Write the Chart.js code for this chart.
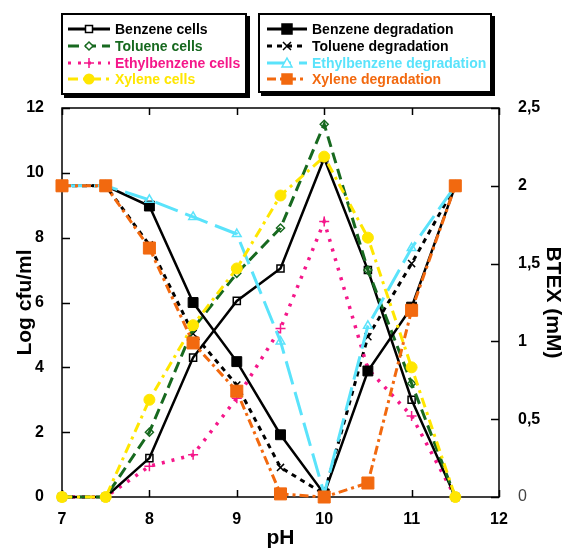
<!DOCTYPE html>
<html>
<head>
<meta charset="utf-8">
<script src="https://cdn.jsdelivr.net/npm/chart.js@4.4.1/dist/chart.umd.min.js"></script>
<style>
  body { margin: 0; background: #fff; }
  #wrap { position: relative; width: 566px; height: 548px; }
  #wrap canvas { position: absolute; left: 0; top: 0; }
  .lg {
    position: absolute; background: #fff; border: 2px solid #000;
    box-shadow: 3px 3px 0 #000; box-sizing: border-box;
    font: bold 14px "Liberation Sans", Arial, sans-serif;
  }
  .row { display: flex; align-items: center; height: 16.7px; white-space: nowrap; }
  .row svg { flex: none; margin-right: 5px; }
</style>
</head>
<body>
<div id="wrap">
  <canvas id="phChart" width="566" height="548"></canvas>
  <div class="lg" id="legCells" style="left:61px;top:13px;width:186px;height:82px;padding:6px 0 0 5px;"></div>
  <div class="lg" id="legDeg" style="left:258px;top:13px;width:234px;height:80px;padding:6px 0 0 7px;"></div>
</div>
<script>
(() => {
  /* ---------- DATA ---------- */

  const PH = [7, 7.5, 8, 8.5, 9, 9.5, 10, 10.5, 11, 11.5];

  // Log cfu/ml (left axis)
  const benzeneCells      = [0, 0, 1.2, 4.3, 6.05, 7.05, 10.45, 7.0, 3.0, 0];
  const tolueneCells      = [0, 0, 2.0, 5.2, 6.9, 8.3, 11.5, 7.0, 3.5, 0];
  const ethylbenzeneCells = [0, 0, 0.95, 1.3, 3.05, 5.2, 8.5, 3.95, 2.5, 0];
  const xyleneCells       = [0, 0, 3.0, 5.3, 7.05, 9.3, 10.5, 8.0, 4.0, 0];

  // BTEX mM (right axis)
  const benzeneDeg      = [2, 2, 1.87, 1.25, 0.87, 0.4, 0.02, 0.81, 1.22, 2];
  const tolueneDeg      = [2, 2, 1.62, 1.05, 0.72, 0.19, 0.02, 1.03, 1.5, 2];
  const ethylbenzeneDeg = [2, 2, 1.91, 1.8, 1.69, 1.0, 0.02, 1.1, 1.6, 2];
  const xyleneDeg       = [2, 2, 1.6, 0.99, 0.68, 0.02, 0, 0.09, 1.2, 2];

  const FONT = '"Liberation Sans", Arial, sans-serif';

  const GREEN = "#17691f";
  const PINK = "#f5178a";
  const YELLOW = "#ffe600";
  const CYAN = "#5ae3fb";
  const ORANGE = "#f2690f";

  const CELLS = [
    { label: "Benzene cells", data: benzeneCells, color: "#000", dash: [], width: 2.5,
      point: "rect", radius: 5, filled: false, order: 5 },
    { label: "Toluene cells", data: tolueneCells, color: GREEN, dash: [11, 6], width: 3,
      point: "rectRot", radius: 4, filled: false, order: 4 },
    { label: "Ethylbenzene cells", data: ethylbenzeneCells, color: PINK, dash: [3, 7], width: 3.5,
      point: "cross", radius: 5, filled: false, order: 6 },
    { label: "Xylene cells", data: xyleneCells, color: YELLOW, dash: [10, 5, 3, 5], width: 3,
      point: "circle", radius: 5.5, filled: true, order: 1 }
  ];

  const DEGS = [
    { label: "Benzene degradation", data: benzeneDeg, color: "#000", dash: [], width: 2.5,
      point: "rect", radius: 7, filled: true, order: 3, text: "#000" },
    { label: "Toluene degradation", data: tolueneDeg, color: "#000", dash: [5, 5], width: 3,
      point: "crossRot", radius: 5, filled: false, order: 7, text: "#000" },
    { label: "Ethylbenzene degradation", data: ethylbenzeneDeg, color: CYAN, dash: [24, 8], width: 3,
      point: "triangle", radius: 5, filled: false, order: 2, text: CYAN },
    { label: "Xylene degradation", data: xyleneDeg, color: ORANGE, dash: [9, 4, 3, 4], width: 3,
      point: "rect", radius: 8.5, filled: true, order: 0, text: ORANGE }
  ];

  /* ---------- HELPERS ---------- */

  function toDataset(s, axis) {
    return {
      label: s.label,
      data: PH.map((x, i) => ({ x, y: s.data[i] })),
      yAxisID: axis,
      borderColor: s.color,
      borderWidth: s.width,
      borderDash: s.dash,
      borderCapStyle: "butt",
      pointStyle: s.point,
      pointRadius: s.radius,
      pointBorderWidth: s.filled ? 1 : 1.5,
      pointBorderColor: s.color,
      pointBackgroundColor: s.filled ? s.color : "rgba(255,255,255,0)",
      tension: 0,
      clip: false,
      order: s.order
    };
  }

  function markerSvg(s, cx, cy) {
    const c = s.color;
    switch (s.point) {
      case "rect": {
        const h = s.filled ? 5 : 3.5;
        return `<rect x="${cx - h}" y="${cy - h}" width="${2 * h}" height="${2 * h}" fill="${s.filled ? c : "#fff"}" stroke="${c}" stroke-width="1.5"/>`;
      }
      case "rectRot":
        return `<polygon points="${cx},${cy - 4} ${cx + 4},${cy} ${cx},${cy + 4} ${cx - 4},${cy}" fill="#fff" stroke="${c}" stroke-width="1.5"/>`;
      case "cross":
        return `<path d="M${cx - 5} ${cy}H${cx + 5}M${cx} ${cy - 5}V${cy + 5}" stroke="${c}" stroke-width="1.5"/>`;
      case "crossRot":
        return `<path d="M${cx - 4} ${cy - 4}L${cx + 4} ${cy + 4}M${cx + 4} ${cy - 4}L${cx - 4} ${cy + 4}" stroke="${c}" stroke-width="1.5"/>`;
      case "triangle":
        return `<polygon points="${cx},${cy - 5} ${cx + 5},${cy + 4} ${cx - 5},${cy + 4}" fill="#fff" stroke="${c}" stroke-width="1.5"/>`;
      default:
        return `<circle cx="${cx}" cy="${cy}" r="5.5" fill="${c}"/>`;
    }
  }

  function buildLegend(el, list, w) {
    list.forEach(s => {
      const row = document.createElement("div");
      row.className = "row";
      const dash = s.dash.length ? `stroke-dasharray="${s.dash.join(" ")}"` : "";
      row.innerHTML =
        `<svg width="${w}" height="14"><line x1="0" y1="7" x2="${w}" y2="7" stroke="${s.color}" stroke-width="3" ${dash}/>` +
        markerSvg(s, w / 2, 7) + `</svg>` +
        `<span style="color:${s.text || s.color}">${s.label}</span>`;
      el.appendChild(row);
    });
  }

  /* ---------- FRAME + INWARD TICKS ---------- */

  const frameTicks = {
    id: "frameTicks",
    beforeDatasetsDraw(chart) {
      const { ctx, chartArea: a, scales } = chart;
      ctx.save();
      ctx.strokeStyle = "#000";
      ctx.lineWidth = 1.5;
      ctx.strokeRect(a.left, a.top, a.right - a.left, a.bottom - a.top);
      ctx.beginPath();
      scales.x.ticks.forEach(t => {
        const px = Math.round(scales.x.getPixelForValue(t.value)) + 0.5;
        ctx.moveTo(px, a.bottom); ctx.lineTo(px, a.bottom - 7);
        ctx.moveTo(px, a.top); ctx.lineTo(px, a.top + 7);
      });
      scales.y.ticks.forEach(t => {
        const py = Math.round(scales.y.getPixelForValue(t.value)) + 0.5;
        ctx.moveTo(a.left, py); ctx.lineTo(a.left + 8, py);
      });
      scales.y2.ticks.forEach(t => {
        const py = Math.round(scales.y2.getPixelForValue(t.value)) + 0.5;
        ctx.moveTo(a.right, py); ctx.lineTo(a.right - 8, py);
      });
      ctx.stroke();
      ctx.restore();
    }
  };

  /* ---------- CHART ---------- */

  function init() {
    buildLegend(document.getElementById("legCells"), CELLS, 42);
    buildLegend(document.getElementById("legDeg"), DEGS, 40);

    const datasets = [
      ...CELLS.map(s => toDataset(s, "y")),
      ...DEGS.map(s => toDataset(s, "y2"))
    ];

    const tickFont = { family: FONT, size: 16, weight: "bold" };
    const titleFont = { family: FONT, size: 21, weight: "bold", lineHeight: 1 };

    new Chart(document.getElementById("phChart"), {
      type: "line",
      data: { datasets },
      plugins: [frameTicks],
      options: {
        responsive: false,
        animation: false,
        layout: { padding: { top: 108, left: 0, right: 0, bottom: 0 } },
        plugins: { legend: { display: false }, tooltip: { enabled: false } },
        scales: {
          x: {
            type: "linear", min: 7, max: 12,
            grid: { display: false }, border: { display: false },
            ticks: { stepSize: 1, color: "#000", font: tickFont, padding: 5 },
            title: { display: true, text: "pH", color: "#000", font: titleFont,
                     padding: { top: 0, bottom: -1 } },
            afterFit: s => { s.height = 51; }
          },
          y: {
            position: "left", min: 0, max: 12,
            grid: { display: false }, border: { display: false },
            ticks: { stepSize: 2, color: "#000", font: tickFont, padding: 10 },
            title: { display: true, text: "Log cfu/ml", color: "#000", font: titleFont,
                     padding: { top: 15, bottom: 0 } },
            afterFit: s => { s.width = 62; }
          },
          y2: {
            position: "right", min: 0, max: 2.5,
            grid: { display: false }, border: { display: false },
            ticks: {
              stepSize: 0.5, padding: 11,
              color: c => (c.tick && c.tick.value === 0 ? "#444" : "#000"),
              font: c => ({ family: FONT, size: 16,
                            weight: c.tick && c.tick.value === 0 ? "normal" : "bold" }),
              callback: v => String(v).replace(".", ",")
            },
            title: { display: true, text: "BTEX (mM)", color: "#000", font: titleFont,
                     padding: { top: 3, bottom: 0 } },
            afterFit: s => { s.width = 67; }
          }
        }
      }
    });
  }

  if (document.readyState === "loading") {
    document.addEventListener("DOMContentLoaded", init);
  } else {
    init();
  }
})();
</script>
</body>
</html>
